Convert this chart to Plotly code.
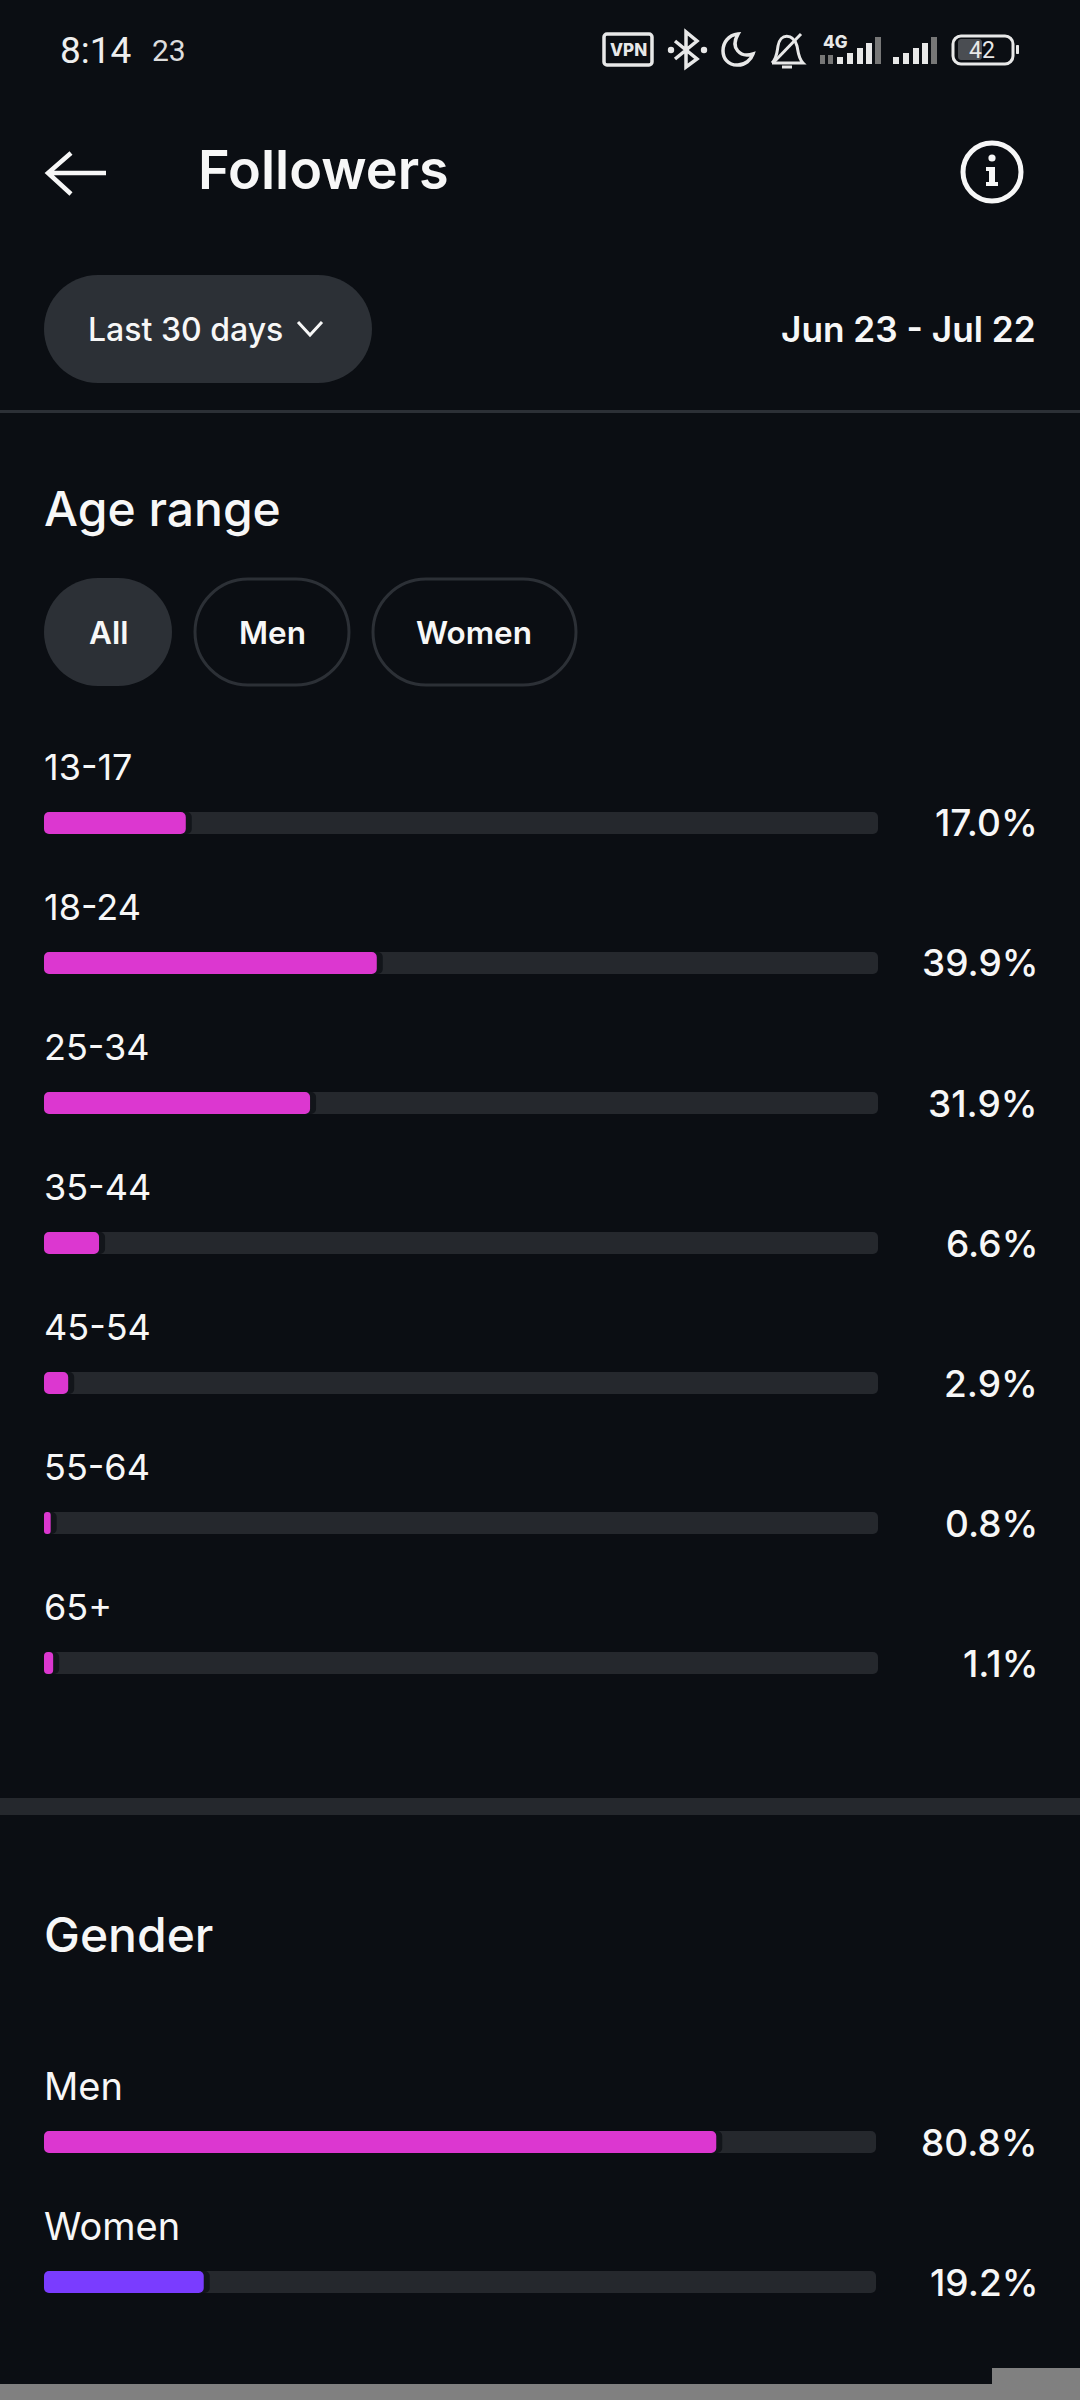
import plotly.graph_objects as go

age_labels = ["13-17", "18-24", "25-34", "35-44", "45-54", "55-64", "65+"]
age_values = [17.0, 39.9, 31.9, 6.6, 2.9, 0.8, 1.1]
gender_labels = ["Men", "Women"]
gender_values = [80.8, 19.2]
filter_labels = ["All", "Men", "Women"]

W, H = 1080, 2400
BG = "#0b0e13"
PILL = "#2c3036"
TRACK = "#25282d"
PINK = "#dc37d0"
PURPLE = "#7a3cff"
WHITE = "#f7f7f7"
ICON = "#e8e8e8"
BAR_W = 22 / 140
GAP = 0.72
SANS = "Inter"


def fx(x):
    return x / W


def fy(y):
    return 1 - y / H


fig = go.Figure()


def add_bars(labels, values, colors, xa, ya):
    # an explicit base makes plotly round both ends of a bar
    common = dict(y=labels, base=[0] * len(labels), orientation="h", width=BAR_W, xaxis=xa, yaxis=ya,
                  hoverinfo="skip", showlegend=False)
    fig.add_trace(go.Bar(x=[100] * len(labels), marker=dict(color=TRACK, cornerradius=5, line_width=0), **common))
    fig.add_trace(go.Bar(x=[v + GAP for v in values], marker=dict(color="#12151a", cornerradius=5, line_width=0), **common))
    fig.add_trace(go.Bar(x=values, marker=dict(color=colors, cornerradius=5.5, line_width=0), **common))


add_bars(age_labels, age_values, PINK, "x", "y")
add_bars(gender_labels, gender_values, [PINK, PURPLE], "x2", "y2")

shapes = []
ann = []


def txt(x, y, s, size, weight=400, anchor="left", color=WHITE, family=SANS):
    ann.append(dict(x=fx(x), y=fy(y), xref="paper", yref="paper", text=s, showarrow=False,
                    xanchor=anchor, yanchor="middle", borderpad=0, borderwidth=0,
                    font=dict(family=family, size=size, weight=weight, color=color)))


def rect(x0, y0, x1, y1, color):
    shapes.append(dict(type="rect", xref="paper", yref="paper", x0=fx(x0), x1=fx(x1), y0=fy(y0), y1=fy(y1),
                       fillcolor=color, line_width=0, layer="above"))


def path(pts, stroke=None, width=0, fill=None):
    """pts: SVG-like tokens, numbers as (x, y) pairs in page pixels."""
    out = []
    for p in pts:
        if isinstance(p, str):
            out.append(p)
        else:
            out.append(f"{fx(p[0]):.5f},{fy(p[1]):.5f}")
    d = dict(type="path", xref="paper", yref="paper", path=" ".join(out), layer="above")
    d["line"] = dict(color=stroke, width=width) if stroke else dict(width=0)
    if fill:
        d["fillcolor"] = fill
    shapes.append(d)


def rrect(x0, y0, x1, y1, r, fill=None, stroke=None, width=0):
    k = 0.45 * r
    path(["M", (x0 + r, y0), "L", (x1 - r, y0),
          "C", (x1 - k, y0), (x1, y0 + k), (x1, y0 + r), "L", (x1, y1 - r),
          "C", (x1, y1 - k), (x1 - k, y1), (x1 - r, y1), "L", (x0 + r, y1),
          "C", (x0 + k, y1), (x0, y1 - k), (x0, y1 - r), "L", (x0, y0 + r),
          "C", (x0, y0 + k), (x0 + k, y0), (x0 + r, y0), "Z"], stroke=stroke, width=width, fill=fill)


def circle(cx, cy, r, fill=None, stroke=None, width=0):
    shapes.append(dict(type="circle", xref="paper", yref="paper", x0=fx(cx - r), x1=fx(cx + r),
                       y0=fy(cy + r), y1=fy(cy - r), fillcolor=fill or "rgba(0,0,0,0)", layer="above",
                       line=dict(color=stroke, width=width) if stroke else dict(width=0)))


# status bar
txt(60, 50, "8:14", 37, 400, family="Roboto", color="#eeeeee")
txt(152, 51, "23", 30, 400, family="Roboto", color="#dddddd")
rrect(604, 34, 652, 65, 3, stroke=ICON, width=3.5)
txt(628, 50, "VPN", 17, 800, "center", ICON)
path(["M", (675, 41), "L", (697, 59), "L", (686, 67), "L", (686, 32), "L", (697, 41), "L", (675, 59)], stroke=ICON, width=3.5)
circle(671, 50, 3.2, fill=ICON)
circle(704, 50, 3.2, fill=ICON)
path(["M", (738, 34), "C", (718, 36), (718, 66), (738, 65), "C", (745, 65), (751, 60), (753, 54),
      "C", (740, 58), (730, 48), (738, 34), "Z"], stroke=ICON, width=3.5)
path(["M", (772, 63), "L", (803, 63), "C", (798, 58), (798, 50), (797, 46), "C", (793, 33), (780, 33), (778, 46),
      "C", (777, 52), (777, 58), (772, 63)], stroke=ICON, width=3)
path(["M", (773, 63), "L", (801, 34)], stroke=ICON, width=3)
path(["M", (782, 67), "L", (792, 67)], stroke=ICON, width=3)
txt(835, 42, "4G", 17, 800, "center", ICON)
rect(820, 55, 825, 64, "#777777")
rect(828, 55, 833, 64, "#777777")
for x0 in (837, 893):
    offs = [0, 10, 20, 29, 38]
    tops = [57, 53, 48, 43, 37]
    for i, (o, t) in enumerate(zip(offs, tops)):
        rect(x0 + o, t, x0 + o + 6, 64, "#777777" if i == 4 else ICON)
rrect(958, 39, 982, 60, 3, fill="#4a4d52")
rrect(953, 36, 1013, 64, 8, stroke=ICON, width=3)
txt(982, 50, "42", 23, 400, "center", ICON, family="Roboto")
rrect(1016, 45, 1019, 54, 1, fill=ICON)

# header
path(["M", (71, 153), "L", (48, 173), "L", (71, 194), "M", (48, 173), "L", (106, 173)], stroke=WHITE, width=4.5)
txt(198, 170, "Followers", 54, 600)
circle(992, 172, 29, stroke=WHITE, width=5)
circle(992, 158, 3.6, fill=WHITE)
path(["M", (986, 167), "L", (995, 167), "L", (995, 182), "L", (998, 182), "L", (998, 186), "L", (986, 186),
      "L", (986, 182), "L", (989, 182), "L", (989, 171), "L", (986, 171), "Z"], fill=WHITE)

# date filter
rrect(44, 275, 372, 383, 54, fill=PILL)
txt(88, 329, "Last 30 days", 32, 500)
path(["M", (298, 322), "L", (310, 335), "L", (322, 322)], stroke=WHITE, width=3)
txt(1036, 329, "Jun 23 - Jul 22", 35.2, 600, "right")
rect(0, 410, W, 413, PILL)

# age section
txt(44, 508, "Age range", 48, 500)
rrect(44, 578, 172, 686, 54, fill=PILL)
rrect(195, 579, 349, 685, 53, stroke=PILL, width=3)
rrect(373, 579, 576, 685, 53, stroke=PILL, width=3)
for label, cx in zip(filter_labels, (108, 272, 474)):
    txt(cx, 633, label, 31.5, 600, "center")

rect(0, 1798, W, 1815, TRACK)
txt(44, 1934, "Gender", 48, 500)

# bottom strip
rect(0, 2384, W, H, "#808080")
rect(992, 2368, W, H, "#808080")


def row_text(labels, values, xa, ya, size):
    for lab, v in zip(labels, values):
        ann.append(dict(x=0, y=lab, xref=xa, yref=ya, text=lab, showarrow=False, xanchor="left",
                        yanchor="middle", yshift=56, borderpad=0, borderwidth=0,
                        font=dict(family=SANS, size=size, weight=400, color=WHITE)))
        ann.append(dict(x=fx(1037.5), y=lab, xref="paper", yref=ya, text=f"{v:.1f}%", showarrow=False,
                        xanchor="right", yanchor="middle", yshift=0, borderpad=0, borderwidth=0,
                        font=dict(family=SANS, size=37, weight=500, color=WHITE)))


row_text(age_labels, age_values, "x", "y", 36)
row_text(gender_labels, gender_values, "x2", "y2", 38)

hidden = dict(visible=False, fixedrange=True)
fig.update_layout(
    width=W, height=H, margin=dict(l=0, r=0, t=0, b=0), autosize=False,
    paper_bgcolor=BG, plot_bgcolor="rgba(0,0,0,0)", barmode="overlay", showlegend=False,
    xaxis=dict(domain=[fx(44), fx(878)], range=[0, 100], anchor="y", **hidden),
    yaxis=dict(domain=[fy(1733), fy(753)], type="category", categoryorder="array", categoryarray=age_labels,
               range=[len(age_labels) - 0.5, -0.5], anchor="x", **hidden),
    xaxis2=dict(domain=[fx(44), fx(876)], range=[0, 100], anchor="y2", **hidden),
    yaxis2=dict(domain=[fy(2352), fy(2072)], type="category", categoryorder="array", categoryarray=gender_labels,
                range=[len(gender_labels) - 0.5, -0.5], anchor="x2", **hidden),
    shapes=shapes, annotations=ann, hovermode=False,
)
fig.write_html("out.html", config={"displayModeBar": False},
               post_script="document.body.style.margin='0';document.body.style.background='#0b0e13';")
